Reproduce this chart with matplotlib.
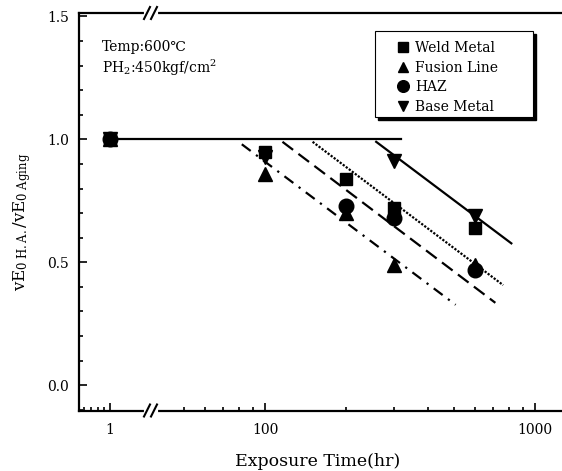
import numpy as np
import matplotlib
matplotlib.use("Agg")
import matplotlib.pyplot as plt
from matplotlib.lines import Line2D
from matplotlib.patches import Rectangle
from matplotlib.ticker import MultipleLocator, NullFormatter

plt.rcParams['font.family'] = ['DejaVu Serif', 'DejaVu Sans']
plt.rcParams['mathtext.fontset'] = 'dejavuserif'

# exposure time (hr) and impact energy ratio for each zone
times = [1, 100, 200, 300, 600]
weld = [1.0, 0.95, 0.84, 0.72, 0.64]
fusion = [1.0, 0.86, 0.70, 0.49, 0.49]
haz = [1.0, np.nan, 0.73, 0.68, 0.47]
base = [1.0, 0.93, np.nan, 0.91, 0.69]

# no-change line and the fitted trend lines (start / end)
flat_x = [1, 320]
flat_y = [1.0, 1.0]
solid_x = [258, 817]
solid_y = [0.99, 0.577]
dotted_x = [150, 762]
dotted_y = [0.99, 0.407]
dashed_x = [116, 713]
dashed_y = [0.99, 0.335]
dashdot_x = [82, 508]
dashdot_y = [0.98, 0.327]

W, H = 562, 471
fig = plt.figure(figsize=(W / 100, H / 100), dpi=100)

def box(x0, x1, y0, y1):
    return [x0 / W, 1 - y1 / H, (x1 - x0) / W, (y1 - y0) / H]

def fx(x):
    return x / W

def fy(y):
    return 1 - y / H

axL = fig.add_axes(box(79, 151, 13, 410.5))
axR = fig.add_axes(box(151, 561, 13, 410.5), sharey=axL)

series = [
    (weld, 's', 8.5, 'Weld Metal'),
    (fusion, '^', 9.5, 'Fusion Line'),
    (base, 'v', 9.5, 'Base Metal'),
    (haz, 'o', 10.5, 'HAZ'),
]

for ax in (axL, axR):
    ax.set_xscale('log')
    ax.plot(flat_x, flat_y, '-', color='k', lw=1.6)
    ax.plot(solid_x, solid_y, '-', color='k', lw=1.6)
    ax.plot(dotted_x, dotted_y, color='k', lw=1.6, ls=(0, (1, 0.7)))
    ax.plot(dashed_x, dashed_y, color='k', lw=1.6, ls=(0, (6, 3)))
    ax.plot(dashdot_x, dashdot_y, color='k', lw=1.6, ls=(0, (5, 3, 1, 3)))
    for vals, m, ms, lab in series:
        ax.plot(times, vals, ls='none', marker=m, ms=ms, color='k', zorder=3)
    for s in ax.spines.values():
        s.set_linewidth(1.6)
    ax.spines['right'].set_visible(False)
    ax.tick_params(which='both', direction='in', top=False, right=False, width=1.2)
    ax.tick_params(which='major', length=6, labelsize=10)
    ax.tick_params(which='minor', length=3)
    ax.tick_params(axis='x', pad=9)
    ax.tick_params(axis='y', pad=7)

axL.set_ylim(-0.103, 1.514)
axL.set_yticks([0.0, 0.5, 1.0, 1.5], labels=['0.0', '0.5', '1.0', '1.5'])
axL.yaxis.set_minor_locator(MultipleLocator(0.1))

axL.set_xlim(0.768, 1.419)
axL.set_xticks([1], labels=['1'])
axL.set_xticks([0.8, 0.85, 0.9, 0.95], minor=True)
axL.xaxis.set_minor_formatter(NullFormatter())

axR.set_xlim(37.8, 1248)
axR.set_xticks([100, 1000], labels=['100', '1000'])
axR.set_xticks([50, 60, 70, 80, 90, 200, 300, 400, 500, 600, 700, 800, 900], minor=True)
axR.xaxis.set_minor_formatter(NullFormatter())
axR.spines['left'].set_visible(False)
axR.tick_params(axis='y', which='both', left=False, labelleft=False)

# break marks on top and bottom spines
for ys in (13, 410.5):
    fig.add_artist(Line2D([fx(146), fx(156)], [fy(ys), fy(ys)], color='white', lw=3, zorder=3))
    for x0 in (144, 151):
        fig.add_artist(Line2D([fx(x0), fx(x0 + 6)], [fy(ys + 6), fy(ys - 6)], color='k', lw=1.5, zorder=4))

# legend frame with shadow
fig.add_artist(Rectangle((fx(378), fy(120)), 158 / W, 86 / H, transform=fig.transFigure,
                         facecolor='k', edgecolor='k', zorder=5))
fig.add_artist(Rectangle((fx(375), fy(117)), 158 / W, 86 / H, transform=fig.transFigure,
                         facecolor='white', edgecolor='k', lw=0.8, zorder=6))
handles = []
for vals, m, ms, lab in [series[0], series[1], series[3], series[2]]:
    handles.append(Line2D([], [], ls='none', marker=m, ms=ms * 0.8, color='k', label=lab))
leg = fig.legend(handles=handles, loc='upper left', bbox_to_anchor=(fx(396), fy(41)),
                 frameon=False, borderpad=0, borderaxespad=0, handlelength=1.0,
                 handletextpad=0.37, labelspacing=0.4, fontsize=10)
leg.set_zorder(7)

fig.text(fx(102), fy(47), 'Temp:600℃', va='center', ha='left', fontsize=10)
fig.text(fx(102), fy(68), 'PH$_2$:450kgf/cm$^2$', va='center', ha='left', fontsize=10)

fig.text(fx(318), fy(462), 'Exposure Time(hr)', ha='center', va='center', fontsize=12.5)
fig.text(fx(22), fy(222), r'$\mathrm{vE_{0\ H.A.}/vE_{0\ Aging}}$', rotation=90,
         ha='center', va='center', fontsize=12)

fig.savefig('out.png', dpi=100)
